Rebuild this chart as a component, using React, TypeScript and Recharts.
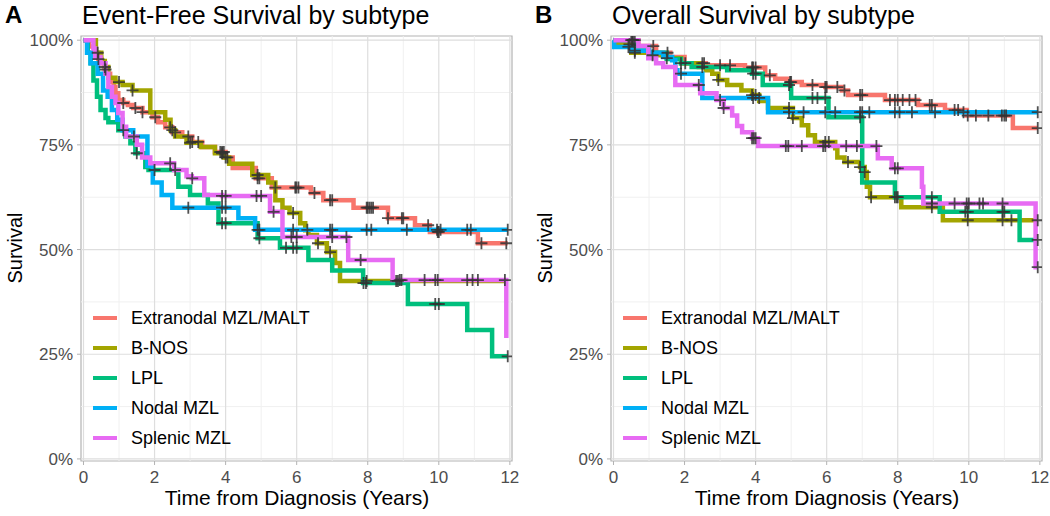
import React from "react";
import { ComposedChart, Line, Scatter, XAxis, YAxis, ReferenceLine, ReferenceArea } from "recharts";

type Pt = [number, number];

const subtypes = ["Extranodal MZL/MALT", "B-NOS", "LPL", "Nodal MZL", "Splenic MZL"];
const colors = ["#F8766D", "#A3A500", "#00BF7D", "#00B0F6", "#E76BF3"];

const xTicks = [0, 2, 4, 6, 8, 10, 12];
const xMinor = [1, 3, 5, 7, 9, 11];
const yTicks = [0, 25, 50, 75, 100];
const yMinor = [12.5, 37.5, 62.5, 87.5];

// Event-free survival, [years, survival %]
const efsMalt: Pt[] = [
  [0, 100], [0.15, 98.5], [0.3, 97], [0.42, 95.5], [0.5, 94.5], [0.6, 93], [0.68, 92], [0.75, 90],
  [0.85, 88.8], [0.9, 87.3], [0.98, 85.7], [1.12, 85], [1.25, 84.5], [1.4, 83.8], [1.66, 82.8],
  [1.94, 81.6], [2.1, 80.4], [2.3, 79.2], [2.5, 78], [2.78, 77], [3.06, 75.7], [3.34, 74.5],
  [3.7, 73.3], [4.0, 72], [4.2, 69.5], [4.85, 67], [5.3, 64.8], [6.4, 63.5], [6.75, 61.8],
  [7.6, 60], [8.57, 57.5], [9.33, 55.8], [9.75, 54.2], [11.1, 51.5], [11.94, 51.5],
];
const efsBnos: Pt[] = [
  [0, 100], [0.35, 97], [0.5, 95], [0.6, 93.6], [0.7, 91], [0.9, 90], [1.1, 89.3], [1.38, 88],
  [1.88, 82.8], [2.3, 81], [2.45, 78.5], [2.58, 77], [2.9, 75.5], [3.3, 74.5], [3.7, 73],
  [3.95, 72], [4.1, 70.5], [4.75, 67.8], [5.2, 66], [5.4, 61.8], [5.6, 60], [5.8, 58.7],
  [6.1, 56.3], [6.24, 54.6], [6.33, 53.5], [6.57, 51.5], [6.85, 49.4], [7.08, 46.8],
  [7.22, 42.5], [11.94, 42.5],
];
const efsLpl: Pt[] = [
  [0, 100], [0.12, 97], [0.2, 94.5], [0.28, 90.4], [0.38, 86.5], [0.48, 83.3], [0.62, 81.4],
  [0.7, 80.4], [0.98, 78.5], [1.18, 77], [1.32, 75.4], [1.46, 73], [1.74, 69.7], [1.83, 69],
  [2.67, 65], [3.0, 63], [3.5, 61], [3.8, 56.3], [4.9, 52.7], [5.53, 50.4], [6.33, 47.5],
  [7.0, 45], [7.87, 42], [9.13, 37], [10.8, 30.8], [11.5, 24.5], [11.94, 24.5],
];
const efsNodal: Pt[] = [
  [0, 100], [0.1, 97], [0.2, 94.5], [0.4, 92], [0.55, 88], [0.68, 86.5], [0.8, 83.3],
  [0.95, 81], [1.1, 78.5], [1.4, 77], [1.8, 70], [1.95, 66], [2.2, 63], [2.5, 60],
  [4.36, 57.5], [4.83, 54.7], [11.94, 54.7],
];
const efsSplenic: Pt[] = [
  [0, 100], [0.28, 98], [0.33, 96], [0.48, 94.5], [0.62, 92], [0.7, 88.8], [0.8, 86.5],
  [0.9, 85], [0.98, 82.6], [1.1, 79.3], [1.2, 77], [1.5, 75], [1.65, 72], [1.88, 70.6],
  [2.55, 69], [2.9, 67.5], [3.05, 67], [3.4, 63], [3.9, 62.8], [5.25, 59], [5.6, 53],
  [7.45, 47.5], [8.7, 42.7], [11.88, 42.7], [11.9, 28.9],
];

const efsMaltCens = [0.42, 0.62, 1.12, 1.46, 1.66, 2.02, 2.44, 2.58, 2.95, 3.06, 3.23, 3.85, 3.9, 3.95, 4.0, 4.9, 4.95, 5.4, 5.96, 5.99, 6.05, 6.5, 6.94, 7.0, 7.97, 8.0, 8.05, 8.1, 8.15, 8.57, 8.96, 9.0, 9.7, 9.97, 10.0, 11.2, 11.9];
const efsBnosCens = [0.4, 0.6, 1.0, 1.38, 2.5, 3.0, 3.9, 4.05, 4.9, 5.9, 6.6, 6.94, 7.97, 8.8, 8.85];
const efsLplCens = [1.5, 2.0, 3.9, 4.0, 4.95, 5.7, 5.9, 6.0, 7.88, 7.95, 9.9, 10.0, 11.94];
const efsNodalCens = [1.12, 2.95, 3.9, 4.0, 4.9, 4.95, 5.9, 6.3, 6.94, 7.0, 7.97, 8.1, 9.1, 9.95, 10.05, 10.8, 10.9, 11.94];
const efsSplenicCens = [1.42, 2.44, 2.58, 3.06, 3.9, 4.0, 4.87, 5.0, 5.35, 5.85, 6.0, 7.0, 7.4, 7.8, 8.9, 8.95, 9.6, 9.9, 9.97, 10.8, 10.95, 11.1, 11.86];

// Overall survival
const osMalt: Pt[] = [
  [0, 100], [0.7, 98.6], [1.2, 97], [1.6, 96], [2.0, 94.5], [2.6, 94], [3.7, 93.5], [4.27, 91.6],
  [4.55, 90.8], [4.9, 90], [5.3, 89.3], [5.96, 88.8], [6.43, 88], [6.6, 86.9], [7.64, 85.7],
  [8.57, 84.5], [9.33, 83.3], [9.94, 82], [11.24, 79], [11.94, 79],
];
const osBnos: Pt[] = [
  [0, 100], [0.03, 99], [0.5, 97], [1.0, 96.4], [1.5, 95.7], [1.9, 94.5], [2.4, 93.6], [2.6, 92.8],
  [2.78, 92], [2.95, 90.5], [3.2, 89.3], [3.6, 88], [3.9, 86.9], [4.1, 85.5], [4.35, 83.8],
  [5.05, 81.4], [5.3, 79.7], [5.48, 77.3], [5.67, 75.7], [6.24, 74.2], [6.3, 72], [6.5, 70.9],
  [6.94, 69.7], [7.07, 68.5], [7.13, 65], [7.22, 62.5], [8.1, 60.1], [9.27, 57], [11.94, 57],
];
const osLpl: Pt[] = [
  [0, 100], [0.6, 98.5], [1.0, 97], [1.5, 95.5], [1.9, 94.5], [2.2, 93.6], [3.2, 92.8], [3.9, 92],
  [4.2, 89.3], [5.0, 86.2], [6.05, 81.6], [7.0, 66], [7.92, 62.5], [9.18, 59], [11.43, 52.3],
  [11.94, 52.3],
];
const osNodal: Pt[] = [
  [0, 100], [0.02, 98.4], [0.5, 97.5], [1.0, 97], [1.4, 96], [1.65, 95.2], [1.74, 92.8],
  [1.8, 92], [2.5, 86.2], [4.35, 82.8], [11.94, 82.8],
];
const osSplenic: Pt[] = [
  [0, 100], [0.7, 98.6], [0.98, 95.7], [1.2, 94.5], [1.4, 93.6], [1.74, 89.3], [2.44, 87.3],
  [2.9, 85.7], [3.1, 83.8], [3.34, 82], [3.48, 79.5], [3.62, 78], [3.9, 76.6], [4.07, 74.7],
  [7.44, 71.8], [7.83, 69.4], [8.68, 65], [8.72, 61], [11.85, 61], [11.88, 45.8], [11.94, 45.8],
];

const osMaltCens = [0.53, 0.6, 1.12, 1.52, 2.02, 2.5, 2.55, 3.0, 3.28, 3.9, 3.93, 4.0, 4.4, 4.97, 5.0, 5.6, 5.96, 6.0, 6.3, 6.5, 6.94, 7.0, 7.78, 7.92, 8.0, 8.14, 8.33, 8.5, 8.9, 8.96, 9.6, 9.7, 9.97, 10.2, 10.55, 10.93, 11.0, 11.05, 11.94];
const osBnosCens = [0.45, 0.6, 1.1, 1.5, 1.9, 2.5, 2.95, 3.9, 4.0, 4.94, 5.05, 5.96, 6.06, 6.6, 6.94, 7.07, 7.25, 7.97, 8.0, 8.96, 9.97, 10.95, 11.2, 11.94];
const osLplCens = [3.93, 4.0, 4.94, 5.6, 5.74, 5.96, 6.94, 7.92, 8.96, 9.9, 9.97, 10.95, 11.0, 11.94];
const osNodalCens = [0.42, 0.6, 1.9, 3.93, 4.1, 4.94, 5.35, 5.96, 6.24, 6.94, 7.0, 7.2, 7.92, 8.05, 8.4, 9.05, 9.85, 11.94];
const osSplenicCens = [0.5, 0.55, 2.4, 3.0, 3.1, 3.9, 3.95, 4.0, 4.85, 4.92, 5.3, 5.9, 5.96, 6.55, 6.85, 7.4, 7.92, 8.0, 8.96, 9.6, 9.94, 10.0, 10.3, 10.4, 10.95, 11.94];

const FONT = "'Liberation Sans', Arial, Helvetica, sans-serif";
const X_DOMAIN: [number, number] = [-0.07, 12.06];
const Y_DOMAIN: [number, number] = [-0.5, 101];

const toRows = (curve: Pt[]) => curve.map(([t, s]) => ({ t, s }));

// survival value of a step curve at time t (used to place censor ticks on the curve)
const survAt = (curve: Pt[], t: number) => {
  let s = curve[0][1];
  for (const [ct, cs] of curve) {
    if (ct <= t) s = cs;
    else break;
  }
  return s;
};

const Plus = (props: any) => {
  const { cx, cy } = props;
  if (cx == null || cy == null) return null;
  return (
    <path
      d={`M${cx - 6},${cy}H${cx + 6}M${cx},${cy - 6}V${cy + 6}`}
      stroke="#333333"
      strokeWidth={1.8}
      strokeOpacity={0.85}
      fill="none"
    />
  );
};

interface PanelProps {
  letter: string;
  title: string;
  left: number;
  curves: Pt[][];
  censors: number[][];
}

function Panel({ letter, title, left, curves, censors }: PanelProps) {
  return (
    <div style={{ position: "absolute", left, top: 0, width: 520, height: 516, fontFamily: FONT }}>
      <div style={{ position: "absolute", left: 5, top: 1, fontSize: 24, fontWeight: "bold", lineHeight: "28px" }}>
        {letter}
      </div>
      <div style={{ position: "absolute", left: 82, top: 0, fontSize: 25, lineHeight: "30px", whiteSpace: "nowrap" }}>
        {title}
      </div>
      <div
        style={{
          position: "absolute",
          left: 15,
          top: 248,
          fontSize: 20,
          lineHeight: "20px",
          transform: "translate(-50%, -50%) rotate(-90deg)",
          whiteSpace: "nowrap",
        }}
      >
        Survival
      </div>
      <div
        style={{
          position: "absolute",
          left: 297,
          top: 497,
          fontSize: 21,
          lineHeight: "21px",
          transform: "translate(-50%, -50%)",
          whiteSpace: "nowrap",
        }}
      >
        Time from Diagnosis (Years)
      </div>
      <ComposedChart width={520} height={516} margin={{ top: 36, right: 8, bottom: 0, left: 0 }} style={{ position: "absolute", left: 0, top: 0 }}>
        <XAxis
          type="number"
          dataKey="t"
          domain={X_DOMAIN}
          allowDataOverflow
          ticks={xTicks}
          interval={0}
          height={55}
          tickSize={4}
          tickMargin={6}
          axisLine={false}
          tickLine={{ stroke: "#B3B3B3" }}
          tick={{ fill: "#4D4D4D", fontSize: 17, fontFamily: FONT }}
        />
        <YAxis
          type="number"
          dataKey="s"
          domain={Y_DOMAIN}
          allowDataOverflow
          ticks={yTicks}
          interval={0}
          width={81}
          tickSize={4}
          tickMargin={4}
          axisLine={false}
          tickLine={{ stroke: "#B3B3B3" }}
          tickFormatter={(v: number) => `${v}%`}
          tick={{ fill: "#4D4D4D", fontSize: 17, fontFamily: FONT }}
        />
        {xMinor.map((v) => (
          <ReferenceLine key={`xm${v}`} x={v} stroke="#F0F0F0" strokeWidth={1} />
        ))}
        {yMinor.map((v) => (
          <ReferenceLine key={`ym${v}`} y={v} stroke="#F0F0F0" strokeWidth={1} />
        ))}
        {xTicks.map((v) => (
          <ReferenceLine key={`xM${v}`} x={v} stroke="#DEDEDE" strokeWidth={1.2} />
        ))}
        {yTicks.map((v) => (
          <ReferenceLine key={`yM${v}`} y={v} stroke="#DEDEDE" strokeWidth={1.2} />
        ))}
        <ReferenceArea x1={X_DOMAIN[0]} x2={X_DOMAIN[1]} y1={Y_DOMAIN[0]} y2={Y_DOMAIN[1]} fill="none" fillOpacity={0} stroke="#B3B3B3" strokeWidth={1.2} />
        {curves.map((c, i) => (
          <Line
            key={`line${i}`}
            data={toRows(c)}
            dataKey="s"
            type="stepAfter"
            stroke={colors[i]}
            strokeWidth={4.5}
            dot={false}
            activeDot={false}
            isAnimationActive={false}
            name={subtypes[i]}
          />
        ))}
        {censors.map((times, i) => (
          <Scatter
            key={`cens${i}`}
            data={times.map((t) => ({ t, s: survAt(curves[i], t) }))}
            dataKey="s"
            shape={Plus}
            legendType="none"
            isAnimationActive={false}
          />
        ))}
      </ComposedChart>
      <div style={{ position: "absolute", left: 93, top: 303 }}>
        {subtypes.map((name, i) => (
          <div key={name} style={{ display: "flex", alignItems: "center", height: 30 }}>
            <div style={{ width: 24, height: 4.5, background: colors[i] }} />
            <div style={{ marginLeft: 14, fontSize: 18, lineHeight: "30px", whiteSpace: "nowrap" }}>{name}</div>
          </div>
        ))}
      </div>
    </div>
  );
}

export default function App() {
  return (
    <div style={{ position: "absolute", left: 0, top: 0, width: 1050, height: 516, background: "#fff" }}>
      <Panel
        letter="A"
        title="Event-Free Survival by subtype"
        left={0}
        curves={[efsMalt, efsBnos, efsLpl, efsNodal, efsSplenic]}
        censors={[efsMaltCens, efsBnosCens, efsLplCens, efsNodalCens, efsSplenicCens]}
      />
      <Panel
        letter="B"
        title="Overall Survival by subtype"
        left={530}
        curves={[osMalt, osBnos, osLpl, osNodal, osSplenic]}
        censors={[osMaltCens, osBnosCens, osLplCens, osNodalCens, osSplenicCens]}
      />
    </div>
  );
}
